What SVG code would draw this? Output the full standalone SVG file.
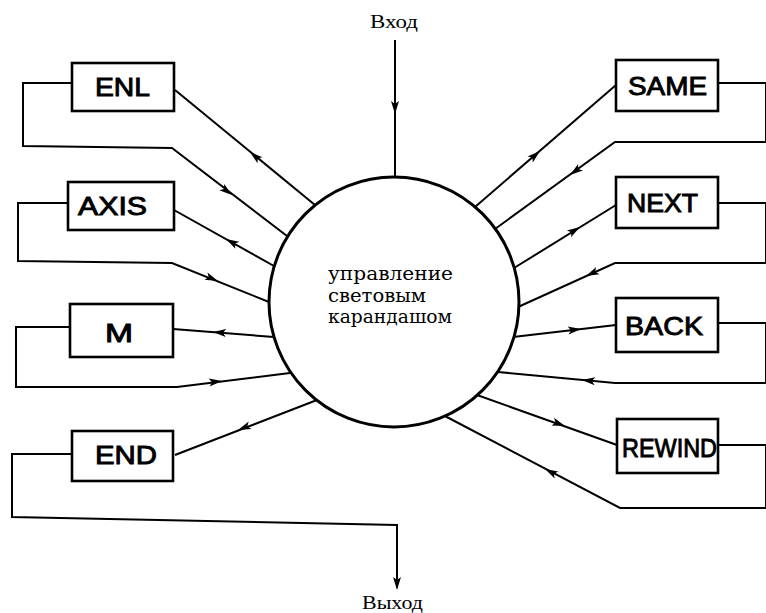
<svg xmlns="http://www.w3.org/2000/svg" xmlns:xlink="http://www.w3.org/1999/xlink" width="766" height="613" viewBox="0 0 766 613">
<style>
.ln{fill:none;stroke:#000;stroke-width:2;stroke-linejoin:miter}
.bx{fill:#fff;stroke:#000;stroke-width:2.6}
.lb{font-family:"Liberation Sans","DejaVu Sans",sans-serif;font-weight:normal;font-size:25px;fill:#000;stroke:#000;stroke-width:0.9}
.ct{font-family:"DejaVu Serif","Liberation Serif",serif;font-size:19px;fill:#000}
.io{font-family:"Liberation Serif","DejaVu Serif",serif;font-size:19px;fill:#000}
.ah{fill:#000}
</style>
<defs>
<path id="ah" d="M0,0 L-13,-4 L-10,0 L-13,4 Z"/>
</defs>
<rect width="766" height="613" fill="#fff"/>

<g id="connectors">
<!-- input / output -->
<path class="ln" d="M395,40 V178"/>
<path class="ln" d="M72,454 H12 V517 L397,525 V588"/>
<!-- left side -->
<path class="ln" d="M315,205 L175,90"/>
<path class="ln" d="M72,83 H23 V146 L172,148 L287,236"/>
<path class="ln" d="M274,266 L174,210"/>
<path class="ln" d="M68,203 H18 V261 L172,263 L269,302"/>
<path class="ln" d="M274,337 L173,329"/>
<path class="ln" d="M70,327 H16 V387 H177 L290,373"/>
<path class="ln" d="M317,400 L175,455"/>
<!-- right side -->
<path class="ln" d="M475,207 L616,85"/>
<path class="ln" d="M718,83 H766 V142 H615 L495,229"/>
<path class="ln" d="M514,268 L616,205"/>
<path class="ln" d="M718,203 H766 V263 H615 L518,307"/>
<path class="ln" d="M513,337 L616,325"/>
<path class="ln" d="M718,323 H766 V383 H615 L498,372"/>
<path class="ln" d="M477,395 L617,445"/>
<path class="ln" d="M718,445 H766 V508 H620 L443,415"/>
<!-- arrowheads -->
<use xlink:href="#ah" class="ah" transform="translate(395,114) rotate(90)"/>
<use xlink:href="#ah" class="ah" transform="translate(397,590) rotate(90)"/>
<use xlink:href="#ah" class="ah" transform="translate(250,152) rotate(219.4)"/>
<use xlink:href="#ah" class="ah" transform="translate(232,195) rotate(37.6)"/>
<use xlink:href="#ah" class="ah" transform="translate(226,239) rotate(209)"/>
<use xlink:href="#ah" class="ah" transform="translate(218,281) rotate(22)"/>
<use xlink:href="#ah" class="ah" transform="translate(213,332) rotate(184.6)"/>
<use xlink:href="#ah" class="ah" transform="translate(222,381) rotate(-7)"/>
<use xlink:href="#ah" class="ah" transform="translate(238,430) rotate(158.8)"/>
<use xlink:href="#ah" class="ah" transform="translate(540,151) rotate(-40.9)"/>
<use xlink:href="#ah" class="ah" transform="translate(570,175) rotate(143.9)"/>
<use xlink:href="#ah" class="ah" transform="translate(580,227) rotate(-31.5)"/>
<use xlink:href="#ah" class="ah" transform="translate(586,276) rotate(155.6)"/>
<use xlink:href="#ah" class="ah" transform="translate(581,329) rotate(-6.8)"/>
<use xlink:href="#ah" class="ah" transform="translate(582,380) rotate(185.4)"/>
<use xlink:href="#ah" class="ah" transform="translate(565,426) rotate(19.7)"/>
<use xlink:href="#ah" class="ah" transform="translate(545,469) rotate(207.7)"/>
</g>

<g id="center">
<circle cx="394" cy="302" r="125" fill="#fff" stroke="#000" stroke-width="3"/>
<text class="ct" x="328" y="280" textLength="125" lengthAdjust="spacingAndGlyphs">управление</text>
<text class="ct" x="328" y="302" textLength="98" lengthAdjust="spacingAndGlyphs">световым</text>
<text class="ct" x="328" y="323" textLength="124" lengthAdjust="spacingAndGlyphs">карандашом</text>
</g>

<g id="input"><text class="io" x="370" y="28" textLength="48" lengthAdjust="spacingAndGlyphs">Вход</text></g>
<g id="output"><text class="io" x="362" y="609" textLength="61" lengthAdjust="spacingAndGlyphs">Выход</text></g>

<g id="ENL"><rect class="bx" x="72" y="63" width="102" height="48"/><text class="lb" x="95" y="96" textLength="55" lengthAdjust="spacingAndGlyphs">ENL</text></g>
<g id="AXIS"><rect class="bx" x="68" y="182" width="106" height="48"/><text class="lb" x="78" y="215" textLength="69" lengthAdjust="spacingAndGlyphs">AXIS</text></g>
<g id="M"><rect class="bx" x="70" y="304" width="103" height="53"/><text class="lb" x="105" y="342" textLength="28" lengthAdjust="spacingAndGlyphs">M</text></g>
<g id="END"><rect class="bx" x="72" y="431" width="101" height="50"/><text class="lb" x="95" y="464" textLength="62" lengthAdjust="spacingAndGlyphs">END</text></g>
<g id="SAME"><rect class="bx" x="616" y="60" width="102" height="51"/><text class="lb" x="628" y="95" textLength="79" lengthAdjust="spacingAndGlyphs">SAME</text></g>
<g id="NEXT"><rect class="bx" x="616" y="177" width="102" height="51"/><text class="lb" x="627" y="212" textLength="71" lengthAdjust="spacingAndGlyphs">NEXT</text></g>
<g id="BACK"><rect class="bx" x="616" y="298" width="102" height="54"/><text class="lb" x="625" y="335" textLength="78" lengthAdjust="spacingAndGlyphs">BACK</text></g>
<g id="REWIND"><rect class="bx" x="617" y="419" width="101" height="54"/><text class="lb" x="622" y="457" textLength="95" lengthAdjust="spacingAndGlyphs">REWIND</text></g>
</svg>
